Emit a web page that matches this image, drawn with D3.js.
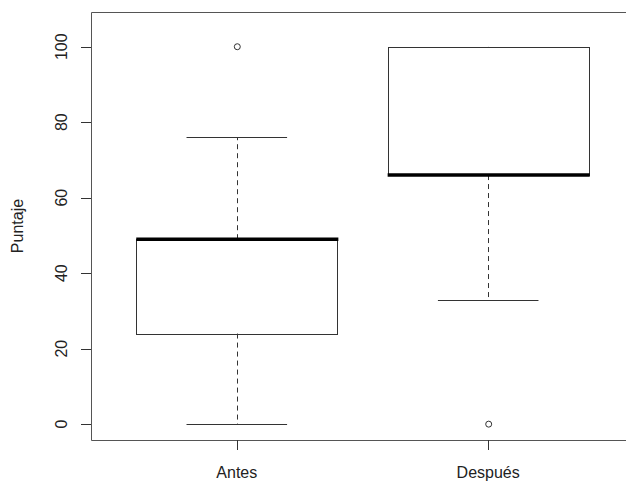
<!DOCTYPE html>
<html>
<head>
<meta charset="utf-8">
<script src="https://cdn.jsdelivr.net/npm/d3@7"></script>
<style>
  html, body { margin: 0; background: #fff; overflow: hidden; }
  svg { display: block; overflow: hidden; font-family: "Liberation Sans", Arial, sans-serif; }
</style>
</head>
<body>
<div id="chart"></div>
<script>
// boxplot summaries
const groups = ["Antes", "Después"];
const whiskerLow = [0, 33];
const q1 = [24, 66];
const median = [49, 66];
const q3 = [49, 100];
const whiskerHigh = [76, 100];
const outliers = [[100], [0]];
const yTicks = [0, 20, 40, 60, 80, 100];

const width = 626, height = 481;
const plot = {left: 91, right: 634, top: 12, bottom: 440};

const svg = d3.select("#chart").append("svg")
    .attr("width", width)
    .attr("height", height);

// R style: x range 0.5..2.5 expanded by 4%
const x = d3.scaleLinear().domain([0.42, 2.58]).range([plot.left, plot.right]);
const y = d3.scaleLinear().domain([-4.2, 109.2]).range([plot.bottom, plot.top]);

const boxW = 0.8, capW = 0.4;
const lineCol = "#333";

// frame (right side falls outside the picture, as in the original)
svg.append("path")
    .attr("d", `M${width + 5},${plot.top + 0.5}H${plot.left + 0.5}V${plot.bottom + 0.5}H${width + 5}`)
    .attr("fill", "none")
    .attr("stroke", "#555");

// y axis
const yAxis = svg.append("g");
yAxis.selectAll("line").data(yTicks).enter().append("line")
    .attr("x1", plot.left - 10).attr("x2", plot.left)
    .attr("y1", d => Math.round(y(d)) + 0.5).attr("y2", d => Math.round(y(d)) + 0.5)
    .attr("stroke", "#333");
yAxis.selectAll("text").data(yTicks).enter().append("text")
    .attr("transform", d => `translate(67, ${y(d)}) rotate(-90)`)
    .attr("text-anchor", "middle")
    .attr("font-size", 16)
    .attr("fill", "#222")
    .text(d => d);

// x axis
const xAxis = svg.append("g");
xAxis.selectAll("line").data(groups).enter().append("line")
    .attr("x1", (d, i) => Math.round(x(i + 1)) + 0.5).attr("x2", (d, i) => Math.round(x(i + 1)) + 0.5)
    .attr("y1", plot.bottom).attr("y2", plot.bottom + 10)
    .attr("stroke", "#333");
xAxis.selectAll("text").data(groups).enter().append("text")
    .attr("x", (d, i) => x(i + 1))
    .attr("y", 478)
    .attr("text-anchor", "middle")
    .attr("font-size", 16)
    .attr("fill", "#222")
    .text(d => d);

// y label
svg.append("text")
    .attr("transform", `translate(23, ${(plot.top + plot.bottom) / 2}) rotate(-90)`)
    .attr("text-anchor", "middle")
    .attr("font-size", 16)
    .attr("fill", "#222")
    .text("Puntaje");

// boxes
const box = svg.selectAll(".box").data(groups).enter().append("g").attr("class", "box");

// dashed whiskers
box.append("line")
    .attr("x1", (d, i) => Math.round(x(i + 1)) + 0.5).attr("x2", (d, i) => Math.round(x(i + 1)) + 0.5)
    .attr("y1", (d, i) => y(q3[i])).attr("y2", (d, i) => y(whiskerHigh[i]))
    .attr("stroke", lineCol).attr("stroke-dasharray", "5,4");
box.append("line")
    .attr("x1", (d, i) => Math.round(x(i + 1)) + 0.5).attr("x2", (d, i) => Math.round(x(i + 1)) + 0.5)
    .attr("y1", (d, i) => y(q1[i])).attr("y2", (d, i) => y(whiskerLow[i]))
    .attr("stroke", lineCol).attr("stroke-dasharray", "5,4");

// caps
[whiskerLow, whiskerHigh].forEach(arr => {
    box.append("line")
        .attr("x1", (d, i) => x(i + 1 - capW / 2)).attr("x2", (d, i) => x(i + 1 + capW / 2))
        .attr("y1", (d, i) => Math.round(y(arr[i])) + 0.5).attr("y2", (d, i) => Math.round(y(arr[i])) + 0.5)
        .attr("stroke", lineCol);
});

// box rect
box.append("rect")
    .attr("x", (d, i) => Math.round(x(i + 1 - boxW / 2)) + 0.5)
    .attr("y", (d, i) => Math.round(y(q3[i])) + 0.5)
    .attr("width", (d, i) => Math.round(x(i + 1 + boxW / 2)) - Math.round(x(i + 1 - boxW / 2)))
    .attr("height", (d, i) => Math.round(y(q1[i])) - Math.round(y(q3[i])))
    .attr("fill", "none")
    .attr("stroke", lineCol);

// median
box.append("line")
    .attr("x1", (d, i) => x(i + 1 - boxW / 2)).attr("x2", (d, i) => x(i + 1 + boxW / 2) + 1)
    .attr("y1", (d, i) => y(median[i])).attr("y2", (d, i) => y(median[i]))
    .attr("stroke", "#000").attr("stroke-width", 3.5);

// outliers
box.each(function (d, i) {
    d3.select(this).selectAll("circle").data(outliers[i]).enter().append("circle")
        .attr("cx", x(i + 1) + 0.5)
        .attr("cy", v => y(v))
        .attr("r", 3)
        .attr("fill", "none")
        .attr("stroke", lineCol);
});
</script>
</body>
</html>
